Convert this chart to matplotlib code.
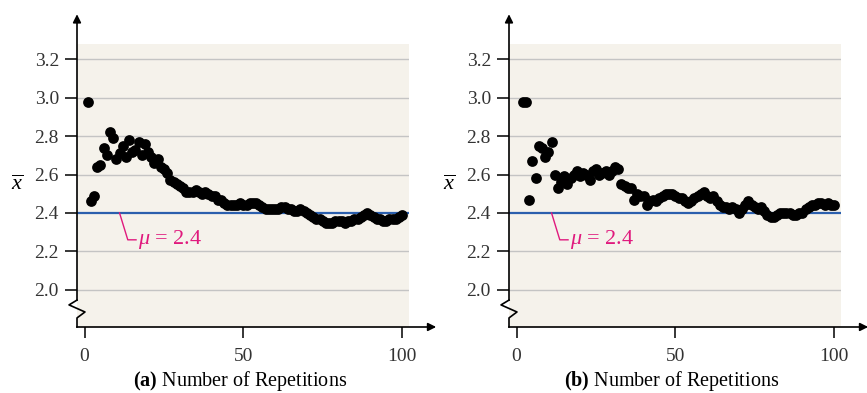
import matplotlib
matplotlib.use('Agg')
import matplotlib.pyplot as plt
import numpy as np

plt.rcParams['font.family'] = ['Liberation Serif', 'DejaVu Serif']
plt.rcParams['mathtext.fontset'] = 'custom'
plt.rcParams['mathtext.rm'] = 'Liberation Serif'
plt.rcParams['mathtext.it'] = 'Liberation Serif:italic'
plt.rcParams['mathtext.bf'] = 'Liberation Serif:bold'

# running means
reps_a = list(range(1, 101))
xbar_a = [2.98, 2.46, 2.49, 2.64, 2.65, 2.74, 2.70, 2.82, 2.79, 2.68,
          2.71, 2.75, 2.69, 2.78, 2.72, 2.73, 2.77, 2.70, 2.76, 2.72,
          2.69, 2.66, 2.68, 2.64, 2.63, 2.61, 2.57, 2.56, 2.55, 2.54,
          2.53, 2.51, 2.51, 2.51, 2.52, 2.51, 2.50, 2.51, 2.50, 2.49,
          2.49, 2.47, 2.47, 2.45, 2.44, 2.44, 2.44, 2.44, 2.45, 2.44,
          2.44, 2.45, 2.45, 2.45, 2.44, 2.43, 2.42, 2.42, 2.42, 2.42,
          2.42, 2.43, 2.43, 2.42, 2.42, 2.41, 2.41, 2.42, 2.41, 2.40,
          2.39, 2.38, 2.37, 2.37, 2.36, 2.35, 2.35, 2.35, 2.36, 2.36,
          2.36, 2.35, 2.36, 2.36, 2.37, 2.37, 2.38, 2.39, 2.40, 2.39,
          2.38, 2.37, 2.37, 2.36, 2.36, 2.37, 2.37, 2.37, 2.38, 2.39]

reps_b = list(range(2, 101))
xbar_b = [2.98, 2.98, 2.47, 2.67, 2.58, 2.75, 2.74, 2.69, 2.72, 2.77,
          2.60, 2.53, 2.56, 2.59, 2.55, 2.58, 2.60, 2.62, 2.59, 2.61,
          2.60, 2.57, 2.62, 2.63, 2.60, 2.61, 2.62, 2.60, 2.62, 2.64,
          2.63, 2.55, 2.54, 2.53, 2.53, 2.47, 2.50, 2.49, 2.49, 2.44,
          2.46, 2.47, 2.46, 2.48, 2.49, 2.50, 2.50, 2.50, 2.49, 2.48,
          2.48, 2.46, 2.45, 2.46, 2.48, 2.49, 2.50, 2.51, 2.49, 2.48,
          2.49, 2.46, 2.44, 2.43, 2.43, 2.42, 2.43, 2.42, 2.40, 2.42,
          2.44, 2.46, 2.44, 2.43, 2.42, 2.43, 2.41, 2.39, 2.38, 2.38,
          2.39, 2.40, 2.40, 2.40, 2.40, 2.39, 2.39, 2.40, 2.40, 2.42,
          2.43, 2.44, 2.44, 2.45, 2.45, 2.44, 2.45, 2.44, 2.44]

mu = 2.4
y_ticks = [2.0, 2.2, 2.4, 2.6, 2.8, 3.0, 3.2]
x_ticks = [0, 50, 100]
panels = [('(a)', reps_a, xbar_a), ('(b)', reps_b, xbar_b)]

bg = '#f5f2eb'
blue = '#2b5fad'
pink = '#e0197d'

fig = plt.figure(figsize=(8.67, 3.93), dpi=100)
lefts = [77 / 867, 509 / 867]

for left, (tag, reps, xbar) in zip(lefts, panels):
    ax = fig.add_axes([left, 0.168, 0.383, 0.720])
    ax.set_facecolor(bg)
    ax.set_xlim(-2.4, 102.2)
    ax.set_ylim(1.806, 3.28)
    for s in ax.spines.values():
        s.set_visible(False)

    for yv in y_ticks:
        if yv != mu:
            ax.axhline(yv, color='#c4c4c4', lw=1.0, zorder=1)
    ax.axhline(mu, color=blue, lw=1.6, zorder=2)

    ax.scatter(reps, xbar, s=60, color='black', zorder=3, linewidths=0)

    ax.set_yticks(y_ticks)
    ax.set_yticklabels(['%.1f' % v for v in y_ticks])
    ax.set_xticks(x_ticks)
    ax.tick_params(axis='y', direction='out', length=9, width=1.1, pad=4,
                   labelsize=14, labelcolor='#333333')
    ax.tick_params(axis='x', direction='out', length=8, width=1.1, pad=7,
                   labelsize=14, labelcolor='#333333')

    # axes with arrows and a break in the y axis
    tr = ax.transAxes
    kw = dict(transform=tr, color='black', lw=1.2, clip_on=False, zorder=5)
    ax.plot([0, 0, 0.024, -0.024, 0], [0, 0.032, 0.053, 0.078, 0.095], **kw)
    ax.plot([0, 0], [0.095, 1.08], **kw)
    ax.plot([0, 1.06], [0, 0], **kw)
    ax.annotate('', xy=(0, 1.115), xytext=(0, 1.07), xycoords=tr,
                arrowprops=dict(arrowstyle='-|>', color='black', lw=1.2,
                                mutation_scale=12))
    ax.annotate('', xy=(1.09, 0), xytext=(1.05, 0), xycoords=tr,
                arrowprops=dict(arrowstyle='-|>', color='black', lw=1.2,
                                mutation_scale=12))

    ax.text(-0.18, 0.5, r'$\overline{x}$', transform=tr, fontsize=16,
            ha='center', va='center')
    ax.text(0.49, -0.19, r'$\mathbf{(%s)}$ Number of Repetitions' % tag[1],
            transform=tr, fontsize=14.5, ha='center', va='center')

    # mu label with leader line
    ax.plot([11, 13.6, 16.2], [mu, 2.26, 2.26], color=pink, lw=1.0, zorder=4)
    ax.text(16.8, 2.26, r'$\mu$ = 2.4', color=pink, fontsize=16,
            ha='left', va='center')

fig.savefig('out.png', dpi=100)
